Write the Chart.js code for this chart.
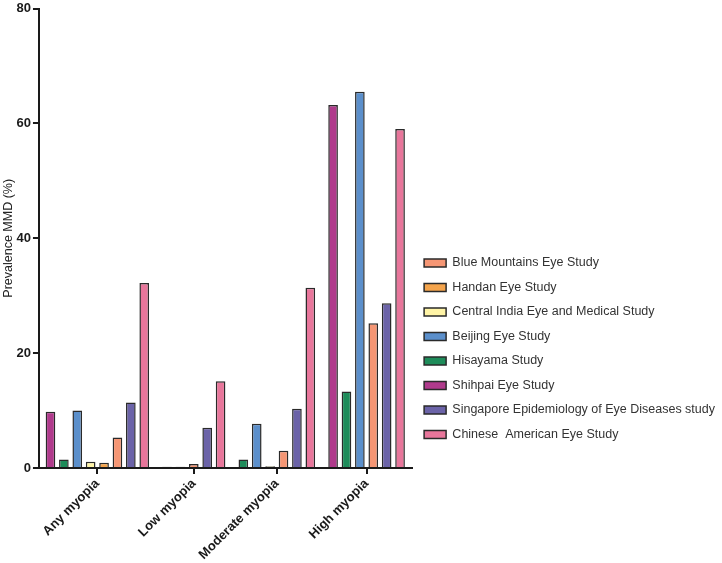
<!DOCTYPE html>
<html>
<head>
<meta charset="utf-8">
<script src="https://cdn.jsdelivr.net/npm/chart.js@4"></script>
<style>
  html, body { margin: 0; padding: 0; background: #fff; }
  #wrap { width: 722px; height: 563px; }
</style>
</head>
<body>
<div id="wrap"><canvas id="chart"></canvas></div>
<script>
const categories = ['Any myopia', 'Low myopia', 'Moderate myopia', 'High myopia'];

// values per category, null = not reported
const blueMountains   = [5.3, 0.7, 3.0, 25.2];
const handan          = [0.9, null, null, null];
const centralIndia    = [1.1, null, 0.3, null];
const beijing         = [10.0, null, 7.7, 65.5];
const hisayama        = [1.5, 0.2, 1.5, 13.3];
const shihpai         = [9.8, 0.2, null, 63.2];
const singapore       = [11.4, 7.0, 10.3, 28.7];
const chineseAmerican = [32.2, 15.1, 31.4, 59.0];

const yTicks = [0, 20, 40, 60, 80];

// legend order
const series = [
    { label: 'Blue Mountains Eye Study', values: blueMountains, color: '#F59674' },
    { label: 'Handan Eye Study', values: handan, color: '#F4A44C' },
    { label: 'Central India Eye and Medical Study', values: centralIndia, color: '#FFF4A6' },
    { label: 'Beijing Eye Study', values: beijing, color: '#5B8FCB' },
    { label: 'Hisayama Study', values: hisayama, color: '#1E8C5A' },
    { label: 'Shihpai Eye Study', values: shihpai, color: '#B03A8C' },
    { label: 'Singapore Epidemiology of Eye Diseases study', values: singapore, color: '#6B63A8' },
    { label: 'Chinese  American Eye Study', values: chineseAmerican, color: '#E8769B' }
];

// order of the bars inside each group (indexes into series)
const barOrder = [5, 4, 3, 2, 1, 0, 6, 7];

// lay out bar slots: present bars only, a small gap between groups
const GROUP_GAP = 0.7;
let pos = 0;
const groupCenters = [];
const slotX = series.map(() => categories.map(() => null));
categories.forEach((cat, ci) => {
    const first = pos;
    barOrder.forEach(si => {
        if (series[si].values[ci] === null) return;
        slotX[si][ci] = pos;
        pos += 1;
    });
    groupCenters.push((first + pos - 1) / 2);
    pos += GROUP_GAP;
});
const lastX = pos - 1 - GROUP_GAP;

const datasets = series.map((s, si) => ({
    label: s.label,
    data: s.values
        .map((v, ci) => v === null ? null : { x: slotX[si][ci], y: v })
        .filter(p => p !== null),
    backgroundColor: s.color,
    borderColor: '#2a2a2a',
    borderWidth: 1.5,
    grouped: false,
    categoryPercentage: 1,
    barPercentage: 0.72
}));

const FONT = "'Liberation Sans', Arial, sans-serif";

new Chart(document.getElementById('chart'), {
    type: 'bar',
    data: { datasets: datasets },
    options: {
        responsive: true,
        maintainAspectRatio: false,
        animation: false,
        layout: { padding: { left: 2, top: -2, right: -3, bottom: 0 } },
        plugins: {
            tooltip: { enabled: false },
            legend: {
                position: 'right',
                align: 'start',
                fullSize: false,
                maxWidth: 330,
                title: { display: true, text: '', padding: { top: 235, bottom: 0 }, font: { size: 1 } },
                labels: {
                    boxWidth: 22,
                    boxHeight: 8,
                    padding: 12,
                    color: '#333',
                    font: { family: FONT, size: 12.5 }
                }
            }
        },
        scales: {
            x: {
                type: 'linear',
                min: -0.86,
                max: lastX + 0.9,
                offset: false,
                afterBuildTicks: (scale) => {
                    scale.ticks = groupCenters.map(v => ({ value: v }));
                },
                afterFit: (scale) => { scale.height = 95; },
                border: { color: '#1a1a1a', width: 2 },
                grid: { offset: false, drawOnChartArea: false, color: '#1a1a1a', lineWidth: 2, tickLength: 6 },
                ticks: {
                    autoSkip: false,
                    minRotation: 45,
                    maxRotation: 45,
                    padding: 2,
                    color: '#1a1a1a',
                    font: { family: FONT, size: 13, weight: 'bold' },
                    callback: (v, i) => categories[i]
                }
            },
            y: {
                min: 0,
                max: 80,
                afterBuildTicks: (scale) => {
                    scale.ticks = yTicks.map(v => ({ value: v }));
                },
                border: { color: '#1a1a1a', width: 2 },
                grid: { drawOnChartArea: false, color: '#1a1a1a', lineWidth: 2, tickLength: 6 },
                ticks: {
                    padding: 2,
                    color: '#1a1a1a',
                    font: { family: FONT, size: 13, weight: 'bold', lineHeight: 1 }
                },
                title: {
                    display: true,
                    text: 'Prevalence MMD (%)',
                    color: '#222',
                    padding: { top: 0, bottom: 0 },
                    font: { family: FONT, size: 12.5, lineHeight: 1 }
                }
            }
        }
    }
});
</script>
</body>
</html>
